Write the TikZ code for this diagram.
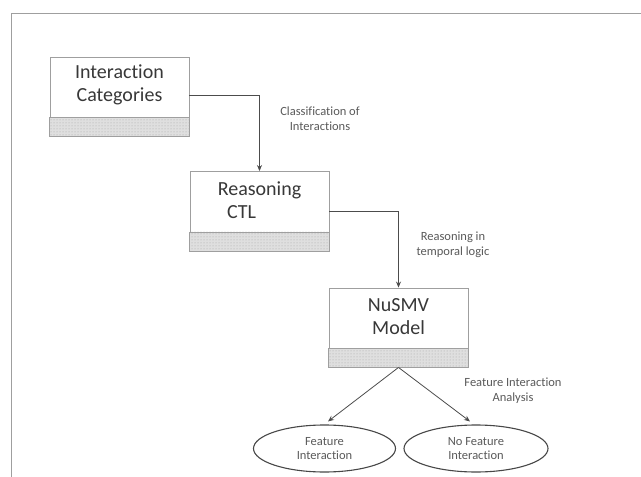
\documentclass[tikz,border=0pt]{standalone}
\usepackage{fontspec}
\setmainfont{Carlito}[Ligatures=NoCommon]
\usetikzlibrary{arrows.meta,shapes.geometric,patterns}

\tikzset{
  box/.style={draw=gray!75, line width=0.9pt, fill=white, rectangle,
    minimum width=139pt, minimum height=79pt, inner sep=0pt},
  band/.style={draw=gray!75, line width=0.9pt, fill=gray!25},
  bandpat/.style={pattern=dots, pattern color=gray!70},
  boxtext/.style={align=center, font=\fontsize{20}{23.5}\selectfont, text=black!78},
  conn/.style={draw=black!70, line width=0.8pt, -{Stealth[length=6pt,width=5pt]}},
  lbl/.style={align=center, font=\fontsize{12.5}{15}\selectfont, text=black!65},
  outcome/.style={ellipse, draw=black!72, line width=1.1pt, inner sep=0pt,
    minimum height=47pt, align=center, font=\fontsize{12.5}{14}\selectfont, text=black!65},
}

\begin{document}
\begin{tikzpicture}[x=1pt, y=-1pt]
  \useasboundingbox (0,0) rectangle (641,477);

  % outer frame, open to the right and below
  \draw[gray!75, line width=1pt] (11,477) -- (11,13) -- (641,13);

  % the three stage boxes
  \node[box] (b1) at (119.5,96.5) {};
  \node[box] (b2) at (259.5,211) {};
  \node[box] (b3) at (398.5,327.5) {};

  % shaded footer bands
  \foreach \b in {b1,b2,b3} {
    \path[band] (\b.south west) rectangle ([yshift=19pt]\b.south east);
    \path[bandpat] (\b.south west) rectangle ([yshift=19pt]\b.south east);
  }

  % box titles
  \node[boxtext] (t1) at (119.5,85) {Interaction\\Categories};
  \node[boxtext, anchor=base] (t2a) at (259.5,195) {Reasoning};
  \node[boxtext, anchor=base] (t2b) at (241.5,218.5) {CTL};
  \node[boxtext] (t3) at (398.5,316.5) {NuSMV\\Model};

  % outcomes
  \node[outcome, minimum width=142pt] (e1) at (324.5,448.5) {Feature\\Interaction};
  \node[outcome, minimum width=144pt] (e2) at (476,448.5) {No Feature\\Interaction};

  % connectors
  \draw[conn] ([yshift=1.5pt]b1.east) -| (b2.north);
  \draw[conn] (b2.east) -| (b3.north);
  \draw[conn] (b3.south) -- ([xshift=3.5pt,yshift=3pt]e1.north);
  \draw[conn] (b3.south) -- ([xshift=-6pt,yshift=3pt]e2.north);

  % connector labels
  \node[lbl] (l1) at (320,118.5) {Classification of\\Interactions};
  \node[lbl] (l2) at (453,245) {Reasoning in\\temporal logic};
  \node[lbl] (l3) at (513,390.5) {Feature Interaction\\Analysis};
\end{tikzpicture}
\end{document}
